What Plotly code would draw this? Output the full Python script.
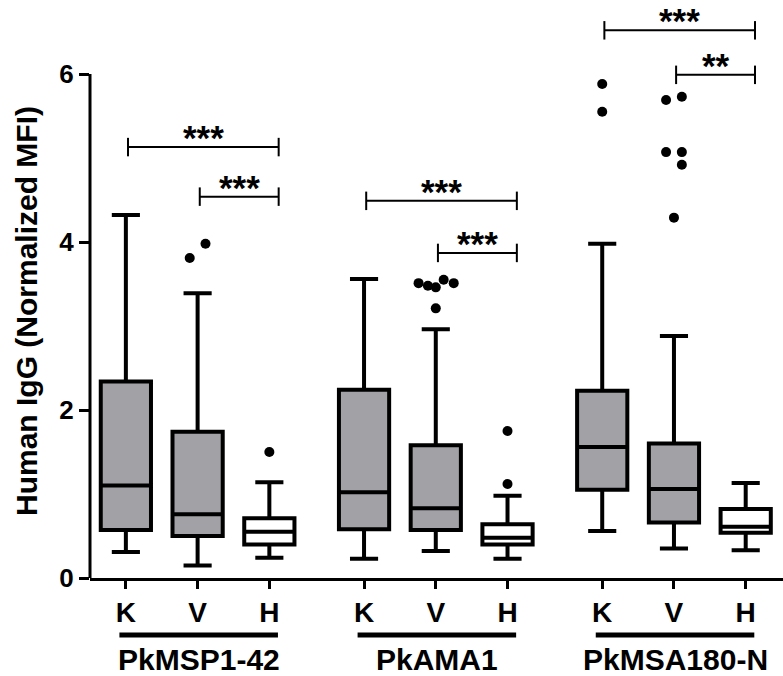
import plotly.graph_objects as go

# ---------------- data ----------------
groups = ["PkMSP1-42", "PkAMA1", "PkMSA180-N"]
cohorts = ["K", "V", "H"]

lower_whisker = [0.31, 0.15, 0.24, 0.23, 0.32, 0.23, 0.56, 0.35, 0.33]
q1_vals       = [0.57, 0.50, 0.40, 0.58, 0.57, 0.40, 1.05, 0.66, 0.54]
median_vals   = [1.10, 0.76, 0.55, 1.02, 0.83, 0.48, 1.56, 1.06, 0.61]
q3_vals       = [2.34, 1.74, 0.71, 2.24, 1.58, 0.64, 2.23, 1.60, 0.82]
upper_whisker = [4.32, 3.39, 1.14, 3.56, 2.96, 0.98, 3.98, 2.88, 1.13]

# outliers: (box index, value)
outlier_box   = [1, 1, 2, 4, 4, 4, 4, 4, 4, 5, 5, 6, 6, 7, 7, 7, 7, 7, 7]
outlier_value = [3.81, 3.98, 1.50, 3.51, 3.48, 3.46, 3.55, 3.51, 3.21, 1.75, 1.12,
                 5.88, 5.55, 5.69, 5.73, 5.07, 5.07, 4.92, 4.29]

# significance brackets: (group, from cohort, to cohort, y level, label)
bracket_group = [0, 0, 1, 1, 2, 2]
bracket_from  = [0, 1, 0, 1, 0, 1]
bracket_to    = [2, 2, 2, 2, 2, 2]
bracket_y     = [5.13, 4.54, 4.49, 3.87, 6.52, 5.99]
bracket_label = ["***", "***", "***", "***", "***", "**"]

y_ticks = [0, 2, 4, 6]
y_title = "Human IgG (Normalized MFI)"

# ---------------- layout helpers ----------------
GROUP_GAP = 1.32
def pos(g, c):
    return g * (2 + GROUP_GAP) + c

outlier_dx = [-0.11, 0.11, 0, -0.24, -0.11, 0, 0.11, 0.25, 0, 0, 0,
              0, 0, -0.11, 0.11, -0.11, 0.11, 0.11, 0]

GRAY = "#a2a2a6"
FONT = "Liberation Sans, Arial, sans-serif"

W, H = 783, 676
ML, MR, MT, MB = 90, 0, 0, 98
plot_w = W - ML - MR
plot_h = H - MT - MB

fig = go.Figure()

for g in range(len(groups)):
    for c in range(len(cohorts)):
        i = g * 3 + c
        fig.add_trace(go.Box(
            x=[pos(g, c)],
            q1=[q1_vals[i]], median=[median_vals[i]], q3=[q3_vals[i]],
            lowerfence=[lower_whisker[i]], upperfence=[upper_whisker[i]],
            width=0.70, whiskerwidth=0.56,
            fillcolor="white" if cohorts[c] == "H" else GRAY,
            line=dict(color="black", width=4),
            boxpoints=False, showlegend=False, hoverinfo="skip",
        ))

fig.add_trace(go.Scatter(
    x=[pos(b // 3, b % 3) + dx for b, dx in zip(outlier_box, outlier_dx)],
    y=outlier_value, mode="markers",
    marker=dict(color="black", size=10),
    showlegend=False, hoverinfo="skip", cliponaxis=False,
))

shapes = []
annotations = []
CAP = 0.11
for g, f, t, yv, lab in zip(bracket_group, bracket_from, bracket_to, bracket_y, bracket_label):
    x0 = pos(g, f) + 0.03
    x1 = pos(g, t) + 0.13
    shapes.append(dict(type="line", xref="x", yref="y", x0=x0, x1=x1, y0=yv, y1=yv,
                       line=dict(color="black", width=2)))
    for xe in (x0, x1):
        shapes.append(dict(type="line", xref="x", yref="y", x0=xe, x1=xe,
                           y0=yv - CAP, y1=yv + CAP, line=dict(color="black", width=2)))
    annotations.append(dict(x=(x0 + x1) / 2, y=yv, xref="x", yref="y", text=lab,
                            showarrow=False, yanchor="bottom", yshift=-12,
                            font=dict(family=FONT, size=35, color="black", weight="bold")))

# y axis line only from 0 to 6
shapes.append(dict(type="line", xref="paper", yref="y", x0=0, x1=0, y0=0, y1=6,
                   line=dict(color="black", width=3)))

# group underlines and labels
for g, name in enumerate(groups):
    xa = pos(g, 0) - 0.09
    xb = pos(g, 2) + 0.12
    shapes.append(dict(type="line", xref="x", yref="paper", x0=xa, x1=xb,
                       y0=(578 - 635) / plot_h, y1=(578 - 635) / plot_h,
                       line=dict(color="black", width=5)))
    annotations.append(dict(x=(xa + xb) / 2, y=(578 - 641) / plot_h, xref="x", yref="paper",
                            text=name, showarrow=False, yanchor="top",
                            font=dict(family=FONT, size=30, color="black", weight="bold")))

annotations.append(dict(x=(27 - ML) / plot_w, y=(578 - 311) / plot_h, xref="paper", yref="paper",
                        text=y_title, showarrow=False, textangle=-90,
                        xanchor="center", yanchor="middle",
                        font=dict(family=FONT, size=30, color="black", weight="bold")))

fig.update_layout(
    width=W, height=H,
    margin=dict(l=ML, r=MR, t=MT, b=MB),
    paper_bgcolor="white", plot_bgcolor="white",
    boxmode="overlay",
    shapes=shapes,
    annotations=annotations,
    xaxis=dict(
        range=[-0.5, 9.16],
        tickvals=[pos(g, c) for g in range(3) for c in range(3)],
        ticktext=cohorts * 3,
        showline=True, linecolor="black", linewidth=2.5,
        ticks="outside", ticklen=8, tickwidth=2.5, tickcolor="black",
        tickfont=dict(family=FONT, size=28, color="black", weight="bold"),
        showgrid=False, zeroline=False,
    ),
    yaxis=dict(
        range=[0, 6.881],
        tickvals=y_ticks,
        showline=False,
        ticks="outside", ticklen=10, tickwidth=2.5, tickcolor="black",
        tickfont=dict(family=FONT, size=26, color="black", weight="bold"),
        showgrid=False, zeroline=False,
    ),
)

fig.write_html("out.html", config={"displayModeBar": False},
               post_script="document.body.style.margin='0';document.body.style.overflow='hidden';")
